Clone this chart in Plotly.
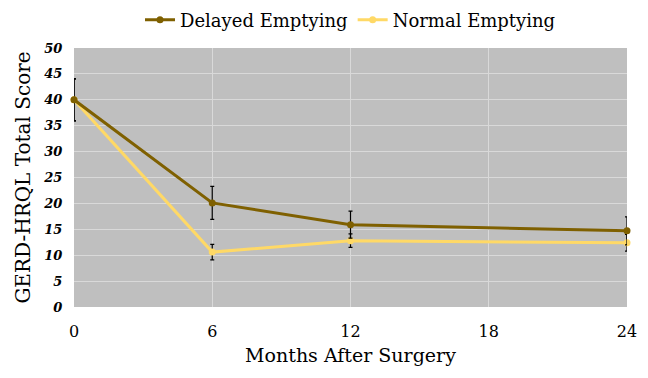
import plotly.graph_objects as go

months = [0, 6, 12, 24]
delayed = [40, 20.1, 15.9, 14.7]
delayed_err = [4.1, 3.2, 2.6, 2.7]
normal = [40, 10.6, 12.8, 12.4]
normal_err = [4.0, 1.5, 1.3, 1.6]
x_ticks = [0, 6, 12, 18, 24]
y_ticks = [0, 5, 10, 15, 20, 25, 30, 35, 40, 45, 50]

serif = "DejaVu Serif, Liberation Serif, serif"

fig = go.Figure()
fig.add_trace(go.Scatter(
    x=months, y=normal, name="Normal Emptying", mode="lines+markers",
    line=dict(color="#FFD966", width=3), marker=dict(size=7, color="#FFD966"),
    error_y=dict(type="data", array=normal_err, color="black", thickness=1.2, width=2),
    cliponaxis=False,
))
fig.add_trace(go.Scatter(
    x=months, y=delayed, name="Delayed Emptying", mode="lines+markers",
    line=dict(color="#7F6000", width=3), marker=dict(size=7, color="#7F6000"),
    error_y=dict(type="data", array=delayed_err, color="black", thickness=1.2, width=2),
    cliponaxis=False,
))

fig.update_layout(
    width=648, height=378,
    margin=dict(l=74, r=21, t=48, b=71, autoexpand=False),
    paper_bgcolor="white", plot_bgcolor="#BFBFBF",
    font=dict(family=serif, color="black"),
    showlegend=True,
    legend=dict(orientation="h", x=0.5, xanchor="center", y=1.108, yanchor="middle",
                traceorder="reversed", font=dict(size=18, family=serif),
                itemwidth=30, bgcolor="rgba(0,0,0,0)"),
    xaxis=dict(range=[0, 24], tickvals=x_ticks, showgrid=True, gridcolor="#D9D9D9",
               gridwidth=1, zeroline=False, showline=False, automargin=False,
               ticks="outside", ticklen=10, tickcolor="rgba(0,0,0,0)",
               tickfont=dict(size=16, family=serif),
               title=dict(text="Months After Surgery", font=dict(size=19, family=serif), standoff=8)),
    yaxis=dict(range=[0, 50], tickvals=y_ticks,
               ticktext=[f"<b><i>{v}</i></b>" for v in y_ticks],
               showgrid=True, gridcolor="#D9D9D9", gridwidth=1, zeroline=False,
               showline=False, automargin=False,
               ticks="outside", ticklen=8, tickcolor="rgba(0,0,0,0)",
               tickfont=dict(size=13, family=serif),
               title=dict(text="GERD-HRQL Total Score", font=dict(size=20, family=serif), standoff=7)),
)

fig.write_html("out.html", config={"displayModeBar": False},
               post_script="document.body.style.margin='0';")
